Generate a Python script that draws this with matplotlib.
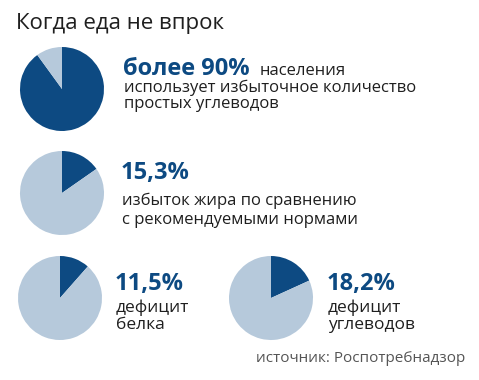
import matplotlib
matplotlib.use('Agg')
import matplotlib.pyplot as plt

plt.rcParams['font.family'] = ['Open Sans', 'DejaVu Sans']

# данные
title = 'Когда еда не впрок'
shares = [90, 15.3, 11.5, 18.2]
big_labels = ['более 90%', '15,3%', '11,5%', '18,2%']
captions = [
    'использует избыточное количество\nпростых углеводов',
    'избыток жира по сравнению\nс рекомендуемыми нормами',
    'дефицит\nбелка',
    'дефицит\nуглеводов',
]
source = 'источник: Роспотребнадзор'

DARK = '#0d4a82'
LIGHT = '#b6c9db'
TEXT = '#1f1f1f'

W, H = 479, 380
fig = plt.figure(figsize=(W / 100, H / 100), dpi=100)
ax = fig.add_axes([0, 0, 1, 1])

# центры кругов в пикселях (x, y сверху)
centers = [(62, 89), (62, 193), (60, 298), (271, 298)]
radius = 42

for share, (cx, cy) in zip(shares, centers):
    ax.pie([share, 100 - share], colors=[DARK, LIGHT], startangle=90,
           counterclock=False, center=(cx, H - cy), radius=radius,
           wedgeprops=dict(linewidth=0))

ax.set_xlim(0, W)
ax.set_ylim(0, H)
ax.set_aspect('equal')
ax.axis('off')

def y(px):
    return H - px

ax.text(16, y(29), title, fontsize=16, color=TEXT, va='baseline', ha='left')

# x, базовая линия числа, верх подписи, размер шрифта, межстрочный
layout = [
    (123, 75, 80, 12, 0.98),
    (121, 179, 193, 12, 1.2),
    (115, 290, 300, 12.5, 1.03),
    (327, 290, 300, 12.5, 1.03),
]

for (lx, by, ty, fs, ls), lbl, cap in zip(layout, big_labels, captions):
    ax.text(lx, y(by), lbl, fontsize=17, fontweight='bold',
            color=DARK, va='baseline', ha='left')
    ax.text(lx + 1, y(ty), cap, fontsize=fs, color=TEXT, va='top',
            ha='left', linespacing=ls)

ax.text(260, y(75), 'населения', fontsize=12, color=TEXT, va='baseline', ha='left')

ax.text(256, y(362), source, fontsize=11, color='#555555', va='baseline', ha='left')

fig.savefig('out.png', dpi=100)
